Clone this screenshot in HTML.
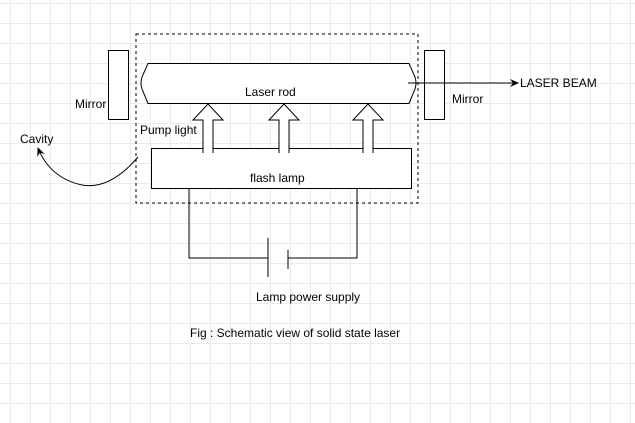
<!DOCTYPE html>
<html><head><style>
body{margin:0;width:635px;height:423px;overflow:hidden;background:#fff;
background-image:linear-gradient(#ebebeb 1px,transparent 1px),linear-gradient(90deg,#ebebeb 1px,transparent 1px);background-size:20px 20px;background-position:10px 3px;}
svg{position:absolute;left:0;top:0}
text{font-family:"Liberation Sans",sans-serif;font-size:12px;fill:#000}
</style></head><body>
<svg width="635" height="423" viewBox="0 0 635 423">
<defs><marker id="a" markerWidth="10" markerHeight="10" refX="8" refY="5" orient="auto" markerUnits="userSpaceOnUse"><path d="M0,1 L9,5 L0,9 L3,5Z" fill="#000"/></marker></defs>
<rect x="136" y="34" width="282" height="169" fill="none" stroke="#000" stroke-dasharray="3,3"/>
<rect x="108.5" y="50.5" width="20" height="69" fill="#fff" stroke="#000"/>
<rect x="424.5" y="50.5" width="20" height="69" fill="#fff" stroke="#000"/>
<path d="M148,63.5 L409,63.5 L415,77 Q417,83 415,89 L409,103.5 L148,103.5 L142,89 Q140,83 142,77 Z" fill="#fff" stroke="#000"/>
<line x1="408" y1="83" x2="518" y2="83" stroke="#000" marker-end="url(#a)"/>
<text x="520" y="87">LASER BEAM</text>
<text x="452" y="103" fill="#222">Mirror</text>
<text x="75" y="108" fill="#222">Mirror</text>
<text x="245" y="96">Laser rod</text>
<rect x="151.5" y="148.5" width="260" height="40" fill="#fff" stroke="#000"/>
<g fill="#fff" stroke="#000">
<path d="M203,153 L203,120 L193,120 L208,104 L223,120 L213,120 L213,153"/>
<path d="M279,153 L279,120 L269,120 L284,104 L299,120 L289,120 L289,153"/>
<path d="M363,153 L363,120 L353,120 L368,104 L383,120 L373,120 L373,153"/>
</g>
<text x="140" y="134">Pump light</text>
<text x="250" y="182">flash lamp</text>
<text x="20" y="143">Cavity</text>
<path d="M138,157 Q110,190 82,185 Q50,178 38,148" fill="none" stroke="#000" marker-end="url(#a)"/>
<path d="M189,188 L189,258 L268,258 M268,238 L268,277 M288,250 L288,269 M288,258 L357,258 L357,188" fill="none" stroke="#000"/>
<text x="256" y="301">Lamp power supply</text>
<text x="190" y="337">Fig : Schematic view of solid state laser</text>
</svg>
</body></html>
